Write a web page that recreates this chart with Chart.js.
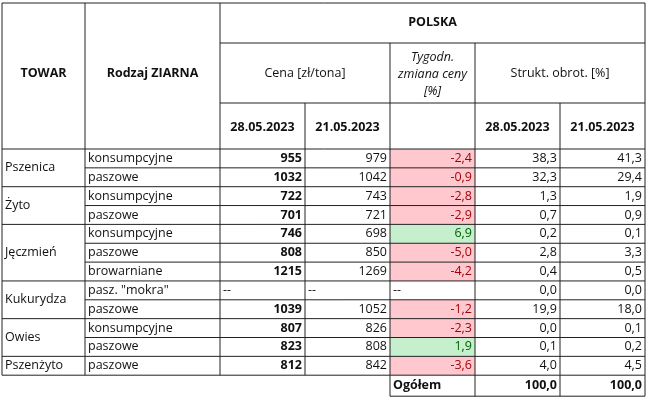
<!DOCTYPE html>
<html><head><meta charset="utf-8">
<script src="https://cdn.jsdelivr.net/npm/chart.js@4/dist/chart.umd.min.js"></script>
<style>html,body{margin:0;background:#fff}#wrap{width:648px;height:415px}</style>
</head><body><div id="wrap"><canvas id="c"></canvas></div>
<script>
"use strict";

// table data
const towar = [["Pszenica", 2], ["Żyto", 2], ["Jęczmień", 3], ["Kukurydza", 2], ["Owies", 2], ["Pszenżyto", 1]];
const rodzaj = ["konsumpcyjne", "paszowe", "konsumpcyjne", "paszowe", "konsumpcyjne", "paszowe", "browarniane",
  "pasz. \"mokra\"", "paszowe", "konsumpcyjne", "paszowe", "paszowe"];
const cena28 = ["955", "1032", "722", "701", "746", "808", "1215", "--", "1039", "807", "823", "812"];
const cena21 = ["979", "1042", "743", "721", "698", "850", "1269", "--", "1052", "826", "808", "842"];
const zmiana = ["-2,4", "-0,9", "-2,8", "-2,9", "6,9", "-5,0", "-4,2", "--", "-1,2", "-2,3", "1,9", "-3,6"];
const strukt28 = ["38,3", "32,3", "1,3", "0,7", "0,2", "2,8", "0,4", "0,0", "19,9", "0,0", "0,1", "4,0"];
const strukt21 = ["41,3", "29,4", "1,9", "0,9", "0,1", "3,3", "0,5", "0,0", "18,0", "0,1", "0,2", "4,5"];
const ogolem = ["100,0", "100,0"];

// layout (in px units of the scales)
const X = [2, 85, 220, 305, 390, 475, 560, 645];
const Y0 = 3, Y1 = 43, Y2 = 103, Y3 = 149, RH = 18.85;
const FONT = "'Open Sans', 'Liberation Sans', sans-serif";

const tablePlugin = {
  id: "table",
  afterDraw(chart) {
    const ctx = chart.ctx, sx = chart.scales.x, sy = chart.scales.y;
    const px = v => sx.getPixelForValue(v), py = v => sy.getPixelForValue(v);
    const line = (x1, y1, x2, y2) => { ctx.beginPath(); ctx.moveTo(px(x1), py(y1)); ctx.lineTo(px(x2), py(y2)); ctx.stroke(); };
    const text = (t, x, y, align, bold, color, italic) => {
      ctx.font = (italic ? "italic " : "") + (bold ? "bold " : "") + "12.5px " + FONT;
      ctx.fillStyle = color || "#111"; ctx.textAlign = align; ctx.textBaseline = "middle";
      ctx.fillText(t, px(x), py(y));
    };
    const n = rodzaj.length, yEnd = Y3 + n * RH;
    // fills
    zmiana.forEach((v, i) => {
      if (v === "--") return;
      ctx.fillStyle = v.startsWith("-") ? "#ffc7ce" : "#c6efce";
      ctx.fillRect(px(X[4]), py(Y3 + i * RH), px(X[5]) - px(X[4]), py(Y3 + (i + 1) * RH) - py(Y3 + i * RH));
    });
    ctx.strokeStyle = "#222"; ctx.lineWidth = 1;
    // outer & header lines
    line(X[0], Y0, X[7], Y0);
    line(X[2], Y1, X[7], Y1);
    line(X[2], Y2, X[7], Y2);
    line(X[0], Y3, X[7], Y3);
    [0, 1, 2, 7].forEach(k => line(X[k], Y0, X[k], yEnd));
    [4, 5].forEach(k => line(X[k], Y1, X[k], yEnd));
    [3, 6].forEach(k => line(X[k], Y2, X[k], yEnd));
    // body rows
    for (let i = 1; i <= n; i++) line(X[1], Y3 + i * RH, X[7], Y3 + i * RH);
    let r = 0;
    towar.forEach(([name, span]) => {
      text(name, X[0] + 3, Y3 + (r + span / 2) * RH, "left");
      r += span;
      line(X[0], Y3 + r * RH, X[1], Y3 + r * RH);
    });
    // ogółem
    line(X[4], yEnd + 21, X[7], yEnd + 21);
    [4, 5, 6, 7].forEach(k => line(X[k], yEnd, X[k], yEnd + 21));
    text("Ogółem", X[4] + 3, yEnd + 10.5, "left", true);
    text(ogolem[0], X[6] - 3, yEnd + 10.5, "right", true);
    text(ogolem[1], X[7] - 3, yEnd + 10.5, "right", true);
    // header text
    text("TOWAR", (X[0] + X[1]) / 2, 73, "center", true);
    text("Rodzaj ZIARNA", (X[1] + X[2]) / 2, 73, "center", true);
    text("POLSKA", (X[2] + X[7]) / 2, 22, "center", true);
    text("Cena [zł/tona]", (X[2] + X[4]) / 2, 73, "center");
    text("Tygodn.", (X[4] + X[5]) / 2, 57, "center", false, "#111", true);
    text("zmiana ceny", (X[4] + X[5]) / 2, 74, "center", false, "#111", true);
    text("[%]", (X[4] + X[5]) / 2, 91, "center", false, "#111", true);
    text("Strukt. obrot. [%]", (X[5] + X[7]) / 2, 73, "center");
    ["28.05.2023", "21.05.2023", "", "28.05.2023", "21.05.2023"].forEach((d, k) => {
      const c = [2, 3, 4, 5, 6][k];
      text(d, (X[c] + X[c + 1]) / 2, 127, "center", true);
    });
    // body text
    for (let i = 0; i < n; i++) {
      const y = Y3 + (i + 0.5) * RH;
      text(rodzaj[i], X[1] + 3, y, "left");
      const dash = cena28[i] === "--";
      const zc = zmiana[i].startsWith("-") ? "#9c0006" : "#006100";
      if (dash) {
        text("--", X[2] + 3, y, "left"); text("--", X[3] + 3, y, "left"); text("--", X[4] + 3, y, "left");
      } else {
        text(cena28[i], X[3] - 3, y, "right", true);
        text(cena21[i], X[4] - 3, y, "right");
        text(zmiana[i], X[5] - 3, y, "right", false, zc);
      }
      text(strukt28[i], X[6] - 3, y, "right");
      text(strukt21[i], X[7] - 3, y, "right");
    }
  }
};

new Chart(document.getElementById("c"), {
  type: "scatter",
  data: { datasets: [{ data: [] }] },
  options: {
    responsive: true, maintainAspectRatio: false, animation: false,
    layout: { padding: 0 },
    plugins: { legend: { display: false }, tooltip: { enabled: false } },
    scales: {
      x: { type: "linear", min: 0, max: 648, display: false },
      y: { type: "linear", min: 0, max: 415, reverse: true, display: false }
    }
  },
  plugins: [tablePlugin]
});
</script></body></html>
